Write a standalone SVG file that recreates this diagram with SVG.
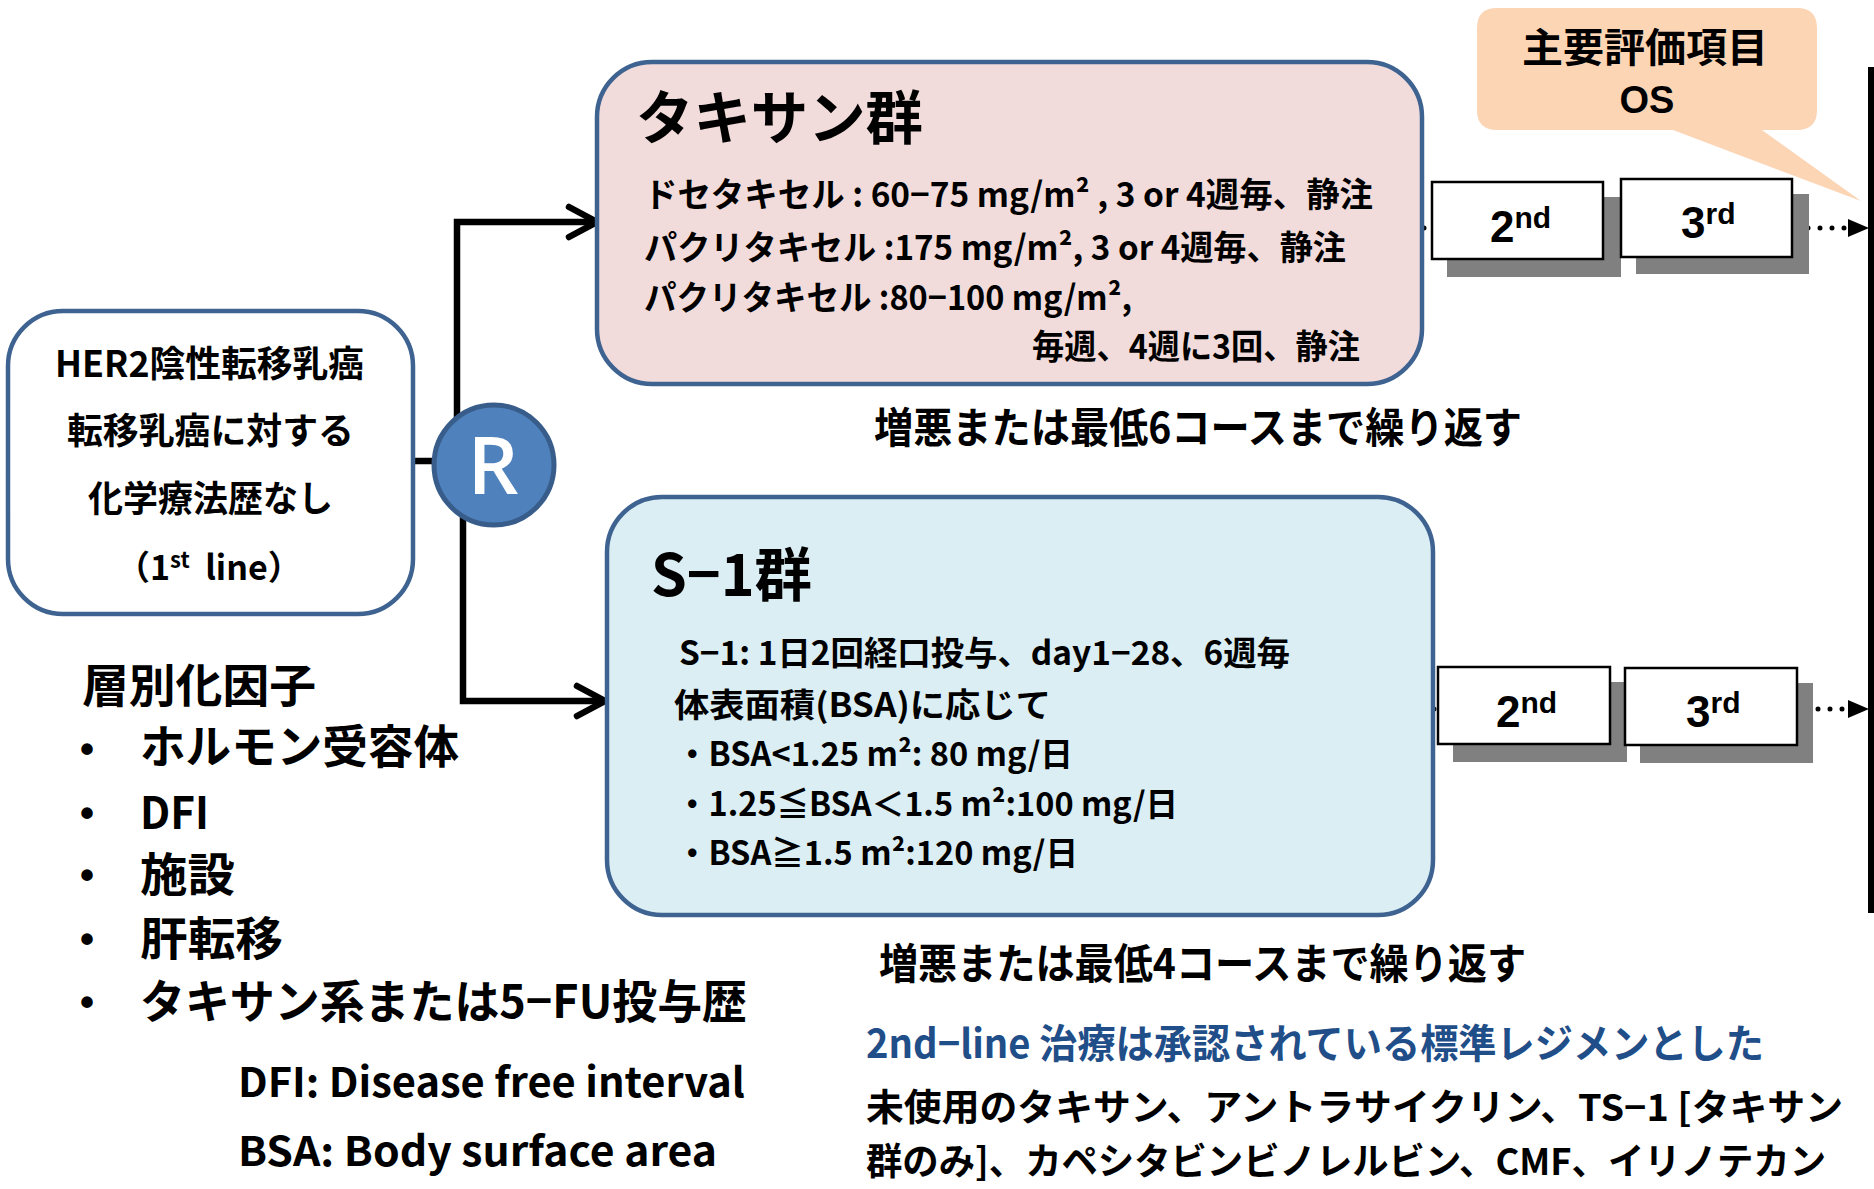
<svg xmlns="http://www.w3.org/2000/svg" width="1874" height="1189" viewBox="0 0 1874 1189">
<style>
.jp{font-family:"Noto Sans CJK JP","Noto Sans",sans-serif;font-weight:700;fill:#000}
.lat{font-family:"Liberation Sans",Arial,sans-serif;font-weight:700;fill:#000}
.box{stroke:#3F6391;stroke-width:4.5}
.shadow{fill:#808080}
.wbox{fill:#fff;stroke:#000;stroke-width:2.5}
.conn{fill:none;stroke:#000;stroke-width:6.5;stroke-linejoin:miter}
.chev{fill:none;stroke:#000;stroke-width:6.5;stroke-linecap:round;stroke-linejoin:miter}
.dots{fill:none;stroke:#000;stroke-width:5;stroke-linecap:round;stroke-dasharray:0 12}
</style>
<rect width="1874" height="1189" fill="#fff"/>

<g id="connectors">
  <line class="conn" x1="410" y1="461" x2="440" y2="461"/>
  <path class="conn" d="M457,420 V222 H595"/>
  <polyline class="chev" points="569,207 597,222 569,237"/>
  <path class="conn" d="M463,515 V701 H603"/>
  <polyline class="chev" points="577,686 605,701 577,716"/>
  <line class="dots" x1="1424" y1="228" x2="1846" y2="228"/>
  <polygon points="1848,219 1869,228 1848,237" fill="#000"/>
  <line class="dots" x1="1434" y1="709" x2="1846" y2="709"/>
  <polygon points="1848,700 1869,709 1848,718" fill="#000"/>
  <rect x="1868" y="67" width="6" height="846" fill="#000"/>
</g>

<g id="node-patients">
  <rect class="box" x="8" y="311" width="405" height="303" rx="55" fill="#fff"/>
  <text class="jp" x="55" y="377" font-size="36" textLength="309" lengthAdjust="spacingAndGlyphs">HER2陰性転移乳癌</text>
  <text class="jp" x="67" y="444" font-size="36" textLength="287" lengthAdjust="spacingAndGlyphs">転移乳癌に対する</text>
  <text class="jp" x="88" y="512" font-size="36" textLength="245" lengthAdjust="spacingAndGlyphs">化学療法歴なし</text>
  <text class="jp" x="116" y="580" font-size="34">（1<tspan font-size="22" dy="-12">st</tspan><tspan dy="12" xml:space="preserve">  line）</tspan></text>
</g>

<g id="node-R">
  <circle cx="494" cy="465" r="60" fill="#4F81BD" stroke="#385D8A" stroke-width="5"/>
  <text x="493" y="494" font-family="'Open Sans','Liberation Sans',sans-serif" font-weight="600" font-size="80" fill="#fff" text-anchor="middle">R</text>
</g>

<g id="node-taxane">
  <rect class="box" x="597" y="62" width="825" height="322" rx="55" fill="#F2DCDB"/>
  <text class="jp" x="636" y="139" font-size="58" textLength="287" lengthAdjust="spacingAndGlyphs">タキサン群</text>
  <text class="jp" x="644" y="207" font-size="34" textLength="729" lengthAdjust="spacingAndGlyphs">ドセタキセル : 60−75 mg/m² , 3 or 4週毎、静注</text>
  <text class="jp" x="644" y="260" font-size="34" textLength="702" lengthAdjust="spacingAndGlyphs">パクリタキセル :175 mg/m², 3 or 4週毎、静注</text>
  <text class="jp" x="644" y="310" font-size="34" textLength="488" lengthAdjust="spacingAndGlyphs">パクリタキセル :80−100 mg/m²,</text>
  <text class="jp" x="1032" y="359" font-size="34" textLength="328" lengthAdjust="spacingAndGlyphs">毎週、4週に3回、静注</text>
</g>
<text class="jp" x="874" y="443" font-size="42" textLength="648" lengthAdjust="spacingAndGlyphs">増悪または最低6コースまで繰り返す</text>

<g id="node-s1">
  <rect class="box" x="607" y="497" width="826" height="418" rx="55" fill="#DBEEF4"/>
  <text class="jp" x="651" y="596" font-size="58" textLength="161" lengthAdjust="spacingAndGlyphs">S−1群</text>
  <text class="jp" x="679" y="665" font-size="33" textLength="611" lengthAdjust="spacingAndGlyphs">S−1: 1日2回経口投与、day1−28、6週毎</text>
  <text class="jp" x="674" y="717" font-size="33" textLength="377" lengthAdjust="spacingAndGlyphs">体表面積(BSA)に応じて</text>
  <text class="jp" x="676" y="766" font-size="33" textLength="397" lengthAdjust="spacingAndGlyphs">・BSA&lt;1.25 m²:  80 mg/日</text>
  <text class="jp" x="676" y="816" font-size="33" textLength="502" lengthAdjust="spacingAndGlyphs">・1.25≦BSA＜1.5 m²:100 mg/日</text>
  <text class="jp" x="676" y="865" font-size="33" textLength="402" lengthAdjust="spacingAndGlyphs">・BSA≧1.5 m²:120 mg/日</text>
</g>
<text class="jp" x="879" y="979" font-size="42" textLength="647" lengthAdjust="spacingAndGlyphs">増悪または最低4コースまで繰り返す</text>

<g id="node-callout">
  <path d="M1497,8 H1797 Q1817,8 1817,28 V110 Q1817,130 1797,130 H1762 L1861,201 L1673,130 H1497 Q1477,130 1477,110 V28 Q1477,8 1497,8 Z" fill="#FCD5B5"/>
  <text class="jp" x="1522" y="62" font-size="40" textLength="246" lengthAdjust="spacingAndGlyphs">主要評価項目</text>
  <text class="lat" x="1647" y="113" font-size="38" text-anchor="middle">OS</text>
</g>

<g id="node-taxane-2nd">
  <rect class="shadow" x="1447" y="197" width="174" height="80"/>
  <rect class="wbox" x="1432" y="182" width="171" height="77"/>
  <text class="lat" x="1490" y="242" font-size="44">2<tspan font-size="30" dy="-14">nd</tspan></text>
</g>
<g id="node-taxane-3rd">
  <rect class="shadow" x="1636" y="194" width="173" height="80"/>
  <rect class="wbox" x="1621" y="179" width="171" height="78"/>
  <text class="lat" x="1681" y="238" font-size="44">3<tspan font-size="30" dy="-14">rd</tspan></text>
</g>
<g id="node-s1-2nd">
  <rect class="shadow" x="1453" y="682" width="174" height="80"/>
  <rect class="wbox" x="1438" y="667" width="172" height="77"/>
  <text class="lat" x="1496" y="727" font-size="44">2<tspan font-size="30" dy="-14">nd</tspan></text>
</g>
<g id="node-s1-3rd">
  <rect class="shadow" x="1640" y="683" width="173" height="80"/>
  <rect class="wbox" x="1625" y="668" width="172" height="77"/>
  <text class="lat" x="1686" y="727" font-size="44">3<tspan font-size="30" dy="-14">rd</tspan></text>
</g>

<g id="strat">
  <text class="jp" x="82" y="702" font-size="46" textLength="234" lengthAdjust="spacingAndGlyphs">層別化因子</text>
  <g class="lat" font-size="40" text-anchor="middle">
    <text x="87" y="763">•</text>
    <text x="87" y="827">•</text>
    <text x="87" y="889">•</text>
    <text x="87" y="953">•</text>
    <text x="87" y="1016">•</text>
  </g>
  <text class="jp" x="140" y="763" font-size="46" textLength="319" lengthAdjust="spacingAndGlyphs">ホルモン受容体</text>
  <text class="jp" x="140" y="829" font-size="44" textLength="69" lengthAdjust="spacingAndGlyphs">DFI</text>
  <text class="jp" x="140" y="891" font-size="46" textLength="95" lengthAdjust="spacingAndGlyphs">施設</text>
  <text class="jp" x="140" y="955" font-size="46" textLength="143" lengthAdjust="spacingAndGlyphs">肝転移</text>
  <text class="jp" x="140" y="1018" font-size="46" textLength="607" lengthAdjust="spacingAndGlyphs">タキサン系または5−FU投与歴</text>
</g>

<g id="legend">
  <text class="jp" x="238" y="1097" font-size="41" textLength="507" lengthAdjust="spacingAndGlyphs">DFI: Disease free interval</text>
  <text class="jp" x="238" y="1166" font-size="41" textLength="479" lengthAdjust="spacingAndGlyphs">BSA: Body surface area</text>
</g>

<g id="second-line">
  <text class="jp" x="866" y="1058" font-size="40" style="fill:#1F4E89" textLength="898" lengthAdjust="spacingAndGlyphs">2nd−line 治療は承認されている標準レジメンとした</text>
  <text class="jp" x="866" y="1121" font-size="37" textLength="977" lengthAdjust="spacingAndGlyphs">未使用のタキサン、アントラサイクリン、TS−1 [タキサン</text>
  <text class="jp" x="866" y="1175" font-size="37" textLength="960" lengthAdjust="spacingAndGlyphs">群のみ]、カペシタビンビノレルビン、CMF、イリノテカン</text>
</g>
</svg>
